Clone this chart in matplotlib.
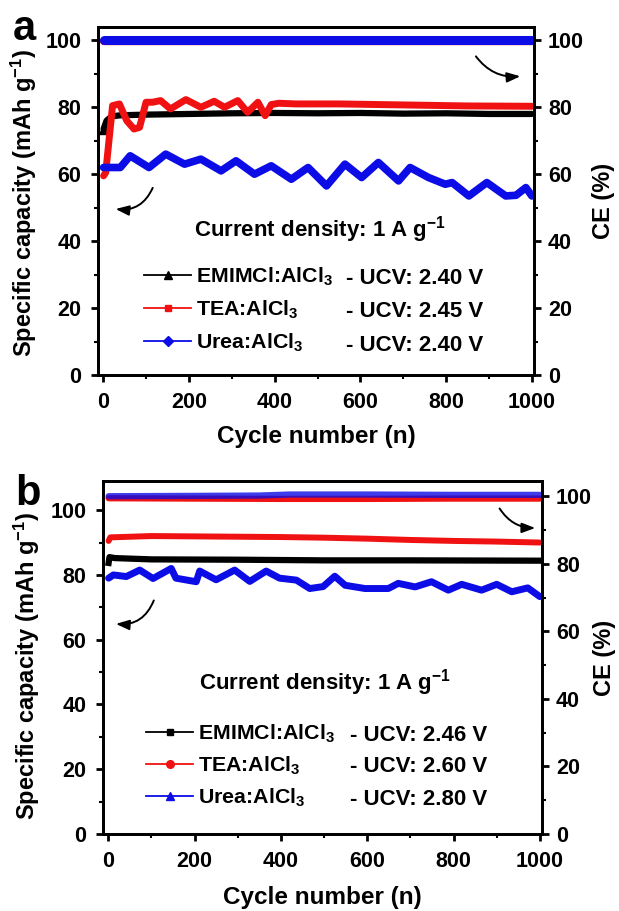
import numpy as np
import matplotlib
matplotlib.use('Agg')
import matplotlib.pyplot as plt
from matplotlib.lines import Line2D
from matplotlib.ticker import MultipleLocator

plt.rcParams['font.family'] = ['Liberation Sans', 'DejaVu Sans']
plt.rcParams['font.weight'] = 'bold'
plt.rcParams['axes.labelweight'] = 'bold'
plt.rcParams['mathtext.fontset'] = 'custom'
plt.rcParams['mathtext.rm'] = 'Liberation Sans:bold'
plt.rcParams['mathtext.bf'] = 'Liberation Sans:bold'
plt.rcParams['mathtext.default'] = 'rm'

BLACK, RED, BLUE = '#000000', '#f01212', '#0c0ce6'

# ---- panel a : capacity (left axis) ----
a_emim_cyc = [1, 8, 20, 40, 100, 200, 300, 400, 500, 600, 700, 800, 900, 1000]
a_emim_cap = [73.5, 76.0, 77.3, 77.6, 77.8, 78.0, 78.2, 78.3, 78.2, 78.3, 78.1, 78.2, 78.0, 78.0]
a_tea_cyc = [1, 6, 22, 38, 55, 72, 85, 100, 115, 134, 157, 193, 228, 259, 283, 314, 337,
             361, 378, 392, 410, 450, 550, 650, 750, 850, 1000]
a_tea_cap = [59.5, 60.5, 80.5, 81.0, 76.0, 73.5, 74.0, 81.5, 81.5, 82.0, 79.5, 82.3, 80.0,
             81.8, 80.0, 82.0, 78.5, 81.5, 77.5, 80.8, 81.2, 81.0, 81.0, 80.8, 80.6, 80.4, 80.3]
a_urea_cyc = [1, 40, 63, 107, 146, 190, 228, 275, 310, 353, 392, 439, 478, 521, 564, 603,
              642, 689, 716, 759, 798, 814, 853, 895, 939, 963, 986, 1000]
a_urea_cap = [62.0, 62.0, 65.5, 62.0, 66.0, 63.0, 64.5, 61.0, 64.0, 60.0, 62.5, 58.5, 62.0,
              56.5, 63.0, 59.0, 63.5, 58.0, 62.0, 59.0, 57.0, 57.5, 53.5, 57.5, 53.5, 53.7,
              56.0, 53.5]
# panel a : CE (right axis)
a_ce_cyc = [1, 250, 500, 750, 1000]
a_ce_emim = [99.9, 99.9, 99.9, 99.9, 99.9]
a_ce_tea = [99.9, 99.9, 99.9, 99.9, 99.9]
a_ce_urea = [100.0, 100.0, 100.0, 100.0, 100.0]

# ---- panel b : capacity (left axis) ----
b_emim_cyc = [1, 3, 15, 100, 300, 500, 700, 1000]
b_emim_cap = [83.7, 85.5, 85.2, 84.8, 84.7, 84.5, 84.5, 84.4]
b_tea_cyc = [1, 5, 100, 200, 300, 400, 500, 600, 700, 800, 900, 1000]
b_tea_cap = [90.5, 91.6, 92.0, 91.9, 91.8, 91.7, 91.5, 91.2, 90.8, 90.5, 90.3, 90.0]
b_urea_cyc = [1, 12, 42, 73, 104, 146, 157, 204, 212, 250, 293, 328, 366, 397, 436, 467,
              498, 525, 549, 595, 649, 672, 711, 749, 788, 819, 865, 900, 935, 972, 1000]
b_urea_cap = [79.0, 80.0, 79.5, 81.5, 78.9, 82.0, 79.0, 77.9, 81.2, 78.5, 81.5, 78.0, 81.2,
              79.0, 78.4, 75.8, 76.4, 79.6, 76.8, 75.8, 75.8, 77.4, 76.3, 77.9, 75.3, 77.1,
              75.3, 77.1, 74.8, 76.0, 73.3]
# panel b : CE (right axis)
b_ce_tea_cyc = [1, 200, 400, 600, 800, 1000]
b_ce_tea = [99.4, 99.3, 99.2, 99.2, 99.3, 99.3]
b_ce_urea_cyc = [1, 200, 350, 420, 600, 800, 1000]
b_ce_urea = [100.0, 100.1, 100.2, 100.5, 100.5, 100.4, 100.4]

labels = ['EMIMCl:AlCl$_3$', 'TEA:AlCl$_3$', 'Urea:AlCl$_3$']
ucv_a = ['- UCV: 2.40 V', '- UCV: 2.45 V', '- UCV: 2.40 V']
ucv_b = ['- UCV: 2.46 V', '- UCV: 2.60 V', '- UCV: 2.80 V']

FS_TXT = 16.0
FS_LEG = 15.4


def style(ax, tw, ylim_l, ylim_r):
    ax.set_xlim(-12, 1005)
    ax.set_ylim(*ylim_l)
    tw.set_ylim(*ylim_r)
    ax.xaxis.set_major_locator(MultipleLocator(200))
    ax.xaxis.set_minor_locator(MultipleLocator(100))
    for a in (ax, tw):
        a.yaxis.set_major_locator(MultipleLocator(20))
        a.yaxis.set_minor_locator(MultipleLocator(10))
        for s in a.spines.values():
            s.set_linewidth(2.0)
    ax.tick_params(which='major', direction='out', length=5, width=2, labelsize=15.5, pad=7)
    ax.tick_params(which='minor', direction='out', length=3, width=1.5)
    ax.tick_params(which='both', top=False, right=False)
    tw.tick_params(which='major', direction='out', length=5, width=2, labelsize=15.5, pad=5)
    tw.tick_params(which='minor', direction='out', length=3, width=1.5)
    ax.set_xlabel('Cycle number (n)', fontsize=17.5)
    ax.set_ylabel('Specific capacity (mAh g$^{-1}$)', fontsize=17)
    tw.set_ylabel('CE (%)', fontsize=17)


def arrow(ax, p0, p1, rad):
    ax.annotate('', xy=p1, xytext=p0, xycoords='axes fraction', textcoords='axes fraction',
                arrowprops=dict(arrowstyle='-|>,head_length=0.8,head_width=0.3', color='black',
                                lw=1.4, connectionstyle='arc3,rad=%s' % rad))


fig = plt.figure(figsize=(6.19, 9.11), dpi=100)

# ---------------- panel a ----------------
ax = fig.add_axes([0.1583, 0.5884, 0.7044, 0.382])
tw = ax.twinx()
ax.plot(a_emim_cyc, a_emim_cap, color=BLACK, lw=4.5, marker='^', ms=7, markevery=[0],
        solid_joinstyle='round', solid_capstyle='round')
ax.plot(a_tea_cyc, a_tea_cap, color=RED, lw=5.0, solid_joinstyle='round', solid_capstyle='round')
ax.plot(a_urea_cyc, a_urea_cap, color=BLUE, lw=5.5, solid_joinstyle='round', solid_capstyle='round')
tw.plot(a_ce_cyc, a_ce_emim, color=BLACK, lw=5.5, solid_capstyle='round')
tw.plot(a_ce_cyc, a_ce_tea, color=RED, lw=6.0, solid_capstyle='round')
tw.plot(a_ce_cyc, a_ce_urea, color=BLUE, lw=6.5, solid_capstyle='round')
style(ax, tw, (0, 104), (0, 104))
ax.xaxis.set_label_coords(0.5, -0.143)
ax.yaxis.set_label_coords(-0.135, 0.495)
tw.yaxis.set_label_coords(1.133, 0.5)

handles = [Line2D([], [], color=BLACK, lw=1.3, marker='^', ms=6),
           Line2D([], [], color=RED, lw=1.3, marker='s', ms=5),
           Line2D([], [], color=BLUE, lw=1.3, marker='D', ms=5)]
ax.legend(handles, labels, loc='center left', bbox_to_anchor=(0.1055, 0.187), frameon=False,
          fontsize=FS_LEG, handlelength=2.2, handletextpad=0.25, labelspacing=0.5,
          borderpad=0, borderaxespad=0)
for y, t in zip([0.276, 0.181, 0.086], ucv_a):
    ax.text(0.568, y, t, transform=ax.transAxes, fontsize=FS_TXT, va='center', ha='left')
ax.text(0.51, 0.4167, 'Current density: 1 A g$^{-1}$', transform=ax.transAxes,
        fontsize=FS_TXT, ha='center', va='center')
arrow(ax, (0.863, 0.922), (0.975, 0.859), 0.3)
arrow(ax, (0.128, 0.545), (0.034, 0.478), -0.4)

# ---------------- panel b ----------------
ax = fig.add_axes([0.1664, 0.0845, 0.7092, 0.3875])
tw = ax.twinx()
ax.plot(b_emim_cyc, b_emim_cap, color=BLACK, lw=4.5, solid_joinstyle='round')
ax.plot(b_tea_cyc, b_tea_cap, color=RED, lw=4.3, solid_joinstyle='round', solid_capstyle='round')
ax.plot(b_urea_cyc, b_urea_cap, color=BLUE, lw=5.0, solid_joinstyle='round', solid_capstyle='round')
tw.plot(b_ce_tea_cyc, b_ce_tea, color=RED, lw=4.5, solid_capstyle='round')
tw.plot(b_ce_urea_cyc, b_ce_urea, color=BLUE, lw=4.5, alpha=0.8, solid_capstyle='round')
style(ax, tw, (0, 109), (0, 104.5))
ax.xaxis.set_label_coords(0.5, -0.147)
ax.yaxis.set_label_coords(-0.139, 0.475)
tw.yaxis.set_label_coords(1.116, 0.5)

handles = [Line2D([], [], color=BLACK, lw=1.3, marker='s', ms=5),
           Line2D([], [], color=RED, lw=1.3, marker='o', ms=5.5),
           Line2D([], [], color=BLUE, lw=1.3, marker='^', ms=6)]
ax.legend(handles, labels, loc='center left', bbox_to_anchor=(0.098, 0.193), frameon=False,
          fontsize=FS_LEG, handlelength=2.2, handletextpad=0.25, labelspacing=0.45,
          borderpad=0, borderaxespad=0)
for y, t in zip([0.28, 0.19, 0.097], ucv_b):
    ax.text(0.562, y, t, transform=ax.transAxes, fontsize=FS_TXT, va='center', ha='left')
ax.text(0.506, 0.428, 'Current density: 1 A g$^{-1}$', transform=ax.transAxes,
        fontsize=FS_TXT, ha='center', va='center')
arrow(ax, (0.90, 0.929), (0.991, 0.867), 0.3)
arrow(ax, (0.118, 0.669), (0.023, 0.596), -0.4)

fig.text(0.039, 0.956, 'a', fontsize=30, fontweight='bold', ha='center', va='baseline')
fig.text(0.045, 0.4457, 'b', fontsize=30, fontweight='bold', ha='center', va='baseline')

fig.savefig('out.png', dpi=100)
